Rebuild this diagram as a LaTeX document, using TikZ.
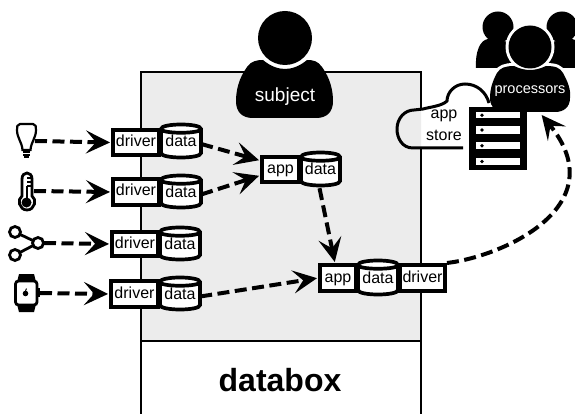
\documentclass[tikz,border=0pt]{standalone}
\usepackage{fontspec}
\setmainfont{Liberation Sans}
\usetikzlibrary{arrows.meta}
\tikzset{
  boxln/.style={draw=black,line width=3.7pt,fill=white},
  boxtxt/.style={inner sep=0pt,font=\fontsize{16}{16}\selectfont,text=black,text height=11.5pt,text depth=3.5pt},
  flow/.style={line width=4pt,dash pattern=on 12pt off 5.5pt,shorten >=1pt,
    -{Stealth[length=24pt,width=23pt,inset=10pt]}},
  icon/.style={draw=black,line width=2.8pt,fill=white},
  whitetxt/.style={inner sep=0pt,text=white}
}
\definecolor{panel}{gray}{0.925}
% name, text, x1,y1,x2,y2
\newcommand\flatbox[6]{%
  \node[boxln,boxtxt,minimum width={#5-#3-3.7pt},minimum height={#6-#4-3.7pt},anchor=center]
     (#1) at ({(#3+#5)/2},{(#4+#6)/2}) {#2};}
\newcommand\datacyl[5]{%
  \draw[boxln] (#2,#3+5) -- (#2,#5-5) .. controls (#2,#5+1) and (#4,#5+1) .. (#4,#5-5)
     -- (#4,#3+5) .. controls (#4,#3-1) and (#2,#3-1) .. (#2,#3+5)
     .. controls (#2,#3+10) and (#4,#3+10) .. (#4,#3+5);
  \node[boxtxt,minimum width={#4-#2},minimum height={#5-#3},anchor=center] (#1) at ({(#2+#4)/2},{(#3+#5)/2+2}) {data};}
\newcommand\procbody{(514,66) .. controls (520,69) and (526,70) .. (530,70)
   .. controls (534,70) and (540,69) .. (546,66)
   .. controls (556,66) and (560,68) .. (563,73)
   .. controls (568,82) and (571,90) .. (570,98)
   .. controls (570,107) and (564,112) .. (555,112)
   -- (505,112) .. controls (496,112) and (490,107) .. (490,98)
   .. controls (490,90) and (492,82) .. (497,73)
   .. controls (500,68) and (505,66) .. (514,66) -- cycle}
\begin{document}
\begin{tikzpicture}[x=1pt,y=-1pt]
\useasboundingbox (0,0) rectangle (575,414);
% databox frame
\fill[panel] (141,72) rectangle (421,341);
\draw[line width=1.8pt] (141,414) -- (141,72) -- (421,72) -- (421,414);
\draw[line width=1.2pt] (141,341) -- (421,341);
\node[inner sep=0pt,font=\fontsize{32}{34}\bfseries\selectfont] (dbx) at (280,380) {databox};
% subject
\fill (263,60) .. controls (270,66) and (278,69) .. (285,69)
   .. controls (292,69) and (300,66) .. (307,60)
   .. controls (313,60) and (318,61) .. (322,67)
   .. controls (330,78) and (333,90) .. (333,101)
   .. controls (333,112) and (327,118) .. (316,118)
   -- (253,118) .. controls (242,118) and (236,112) .. (236,101)
   .. controls (236,90) and (239,78) .. (247,67)
   .. controls (251,61) and (257,60) .. (263,60) -- cycle;
\fill (285,38) circle[radius=27pt];
\node[whitetxt,font=\fontsize{19}{20}\selectfont] (subj) at (285,96.5) {subject};
% processors, side figures
\fill (498,27) circle[radius=15.5pt];
\fill (562,27) circle[radius=15.5pt];
\fill (476,68) .. controls (475,52) and (480,40) .. (488,39) -- (510,42) -- (520,68) -- cycle;
\fill (584,68) .. controls (585,52) and (580,40) .. (572,39) -- (550,42) -- (540,68) -- cycle;
% halo of central figure
\fill[white] (530,47) circle[radius=24.5pt];
\path[draw=white,line width=6pt,fill=white] \procbody;
% cloud
\path[fill=white] (463,148) -- (413,148) .. controls (402,148) and (397,138) .. (397,129)
  .. controls (397,118) and (405,110) .. (414,110) -- (423,109)
  .. controls (430,104) and (440,103) .. (447,101)
  .. controls (447,92) and (455,84) .. (465,84)
  .. controls (477,84) and (486,92) .. (489,103) -- (489,148) -- cycle;
\begin{scope}
  \clip (397,105) rectangle (421,148);
  \path[fill=panel] (413,148) .. controls (402,148) and (397,138) .. (397,129)
  .. controls (397,118) and (405,110) .. (414,110) -- (423,109) -- (423,148) -- cycle;
\end{scope}
\draw[line width=3pt] (463,148) -- (413,148) .. controls (402,148) and (397,138) .. (397,129)
  .. controls (397,118) and (405,110) .. (414,110) -- (423,109)
  .. controls (430,107) and (442,106) .. (447,101)
  .. controls (447,92) and (455,84) .. (465,84)
  .. controls (477,84) and (486,92) .. (489,103);
\node[inner sep=0pt,font=\fontsize{16}{16}\selectfont] (st1) at (444,116) {app};
\node[inner sep=0pt,font=\fontsize{16}{16}\selectfont] (st2) at (444,135.5) {store};
% server
\fill (469,107) rectangle (527,170);
\foreach \yy/\hh in {112/118.5,126/134,142/149.5,158/165}{
  \fill[white] (476,\yy) rectangle (520,\hh);
  \fill (482,{(\yy+\hh)/2}) circle[radius=1.8pt];
}
% central processor
\fill \procbody;
\fill (530,47) circle[radius=21.5pt];
\node[whitetxt,font=\fontsize{14.5}{15}\selectfont,minimum width=76pt,minimum height=44pt] (procs) at (530,91) {processors};
% bulb
\draw[icon,line width=2.2pt] (20,124) -- (33,124) .. controls (36,124) and (36,127) .. (36,130)
   .. controls (36,138) and (31,142) .. (30.5,150) -- (22.5,150)
   .. controls (22,142) and (17,138) .. (17,130) .. controls (17,127) and (17,124) .. (20,124) -- cycle;
\draw[line width=1.4pt] (23,152) -- (30,152) (23,155) -- (30,155);
\fill (24,156.5) rectangle (29,158.5);
\coordinate (bulb) at (35,141);
% thermometer
\draw[icon] (22,179) .. controls (22,171) and (32,171) .. (32,179) -- (32,196)
   .. controls (37,199) and (35,210) .. (27,210) .. controls (19,210) and (17,199) .. (22,196) -- cycle;
\fill (26.5,202.5) circle[radius=5pt];
\fill (25.5,186) rectangle (28,198);
\draw[line width=1.2pt] (27,178) -- (31,178) (27,182) -- (31,182) (27,186) -- (31,186);
\coordinate (therm) at (34,191);
% share
\coordinate (sh1) at (15,232);
\coordinate (sh2) at (38,243);
\coordinate (sh3) at (15,255);
\draw[line width=2.8pt] (sh1) -- (sh2) -- (sh3);
\draw[icon] (sh1) circle[radius=5.5pt];
\draw[icon] (sh2) circle[radius=5.5pt];
\draw[icon] (sh3) circle[radius=5.5pt];
\coordinate (share) at (44,243);
% watch
\fill (19,274) -- (34,274) -- (36,282) -- (17,282) -- cycle;
\fill (19,312) -- (34,312) -- (36,304) -- (17,304) -- cycle;
\draw[icon,rounded corners=3pt] (15.5,281) rectangle (37,305);
\fill (38,288) rectangle (40,297);
\fill (25.5,293.5) circle[radius=2.8pt];
\draw[line width=1pt] (25.5,291) -- (26.5,288.5);
\coordinate (watch) at (40,293);
% driver + data rows
\datacyl{d1}{161}{124}{201}{158}
\flatbox{drv1}{driver}{111}{128}{161}{157}
\datacyl{d2}{161}{175}{201}{208}
\flatbox{drv2}{driver}{111}{177}{161}{207}
\datacyl{d3}{160}{227}{200}{260}
\flatbox{drv3}{driver}{110}{230}{160}{258}
\datacyl{d4}{160}{277}{200}{310}
\flatbox{drv4}{driver}{109}{279}{160}{309}
% app 1
\flatbox{app1}{app}{260}{155}{301}{184}
\datacyl{d5}{301}{152}{340}{186}
% app 2
\flatbox{app2}{app}{318}{263}{358}{293}
\flatbox{drv5}{driver}{398}{263}{447}{293}
\datacyl{d6}{358}{260}{398}{295}
% connectors
\draw[flow] (bulb) -- (drv1.west);
\draw[flow] (therm) -- (drv2.west);
\draw[flow] (share) -- (drv3.west);
\draw[flow] (watch) -- (drv4.west);
\draw[flow] ([yshift=-1pt]d1.east) -- ([yshift=9pt]app1.west);
\draw[flow] ([yshift=-1pt]d2.east) -- ([yshift=-6pt]app1.west);
\draw[flow] ([xshift=-1pt]d5.south) -- ([xshift=-3pt]app2.north);
\draw[flow] ([yshift=-1pt]d4.east) -- (app2.west);
\draw[flow] (drv5.north east) .. controls (505,256) and (615,205) .. ([xshift=11pt,yshift=-1pt]procs.south);
\end{tikzpicture}
\end{document}
